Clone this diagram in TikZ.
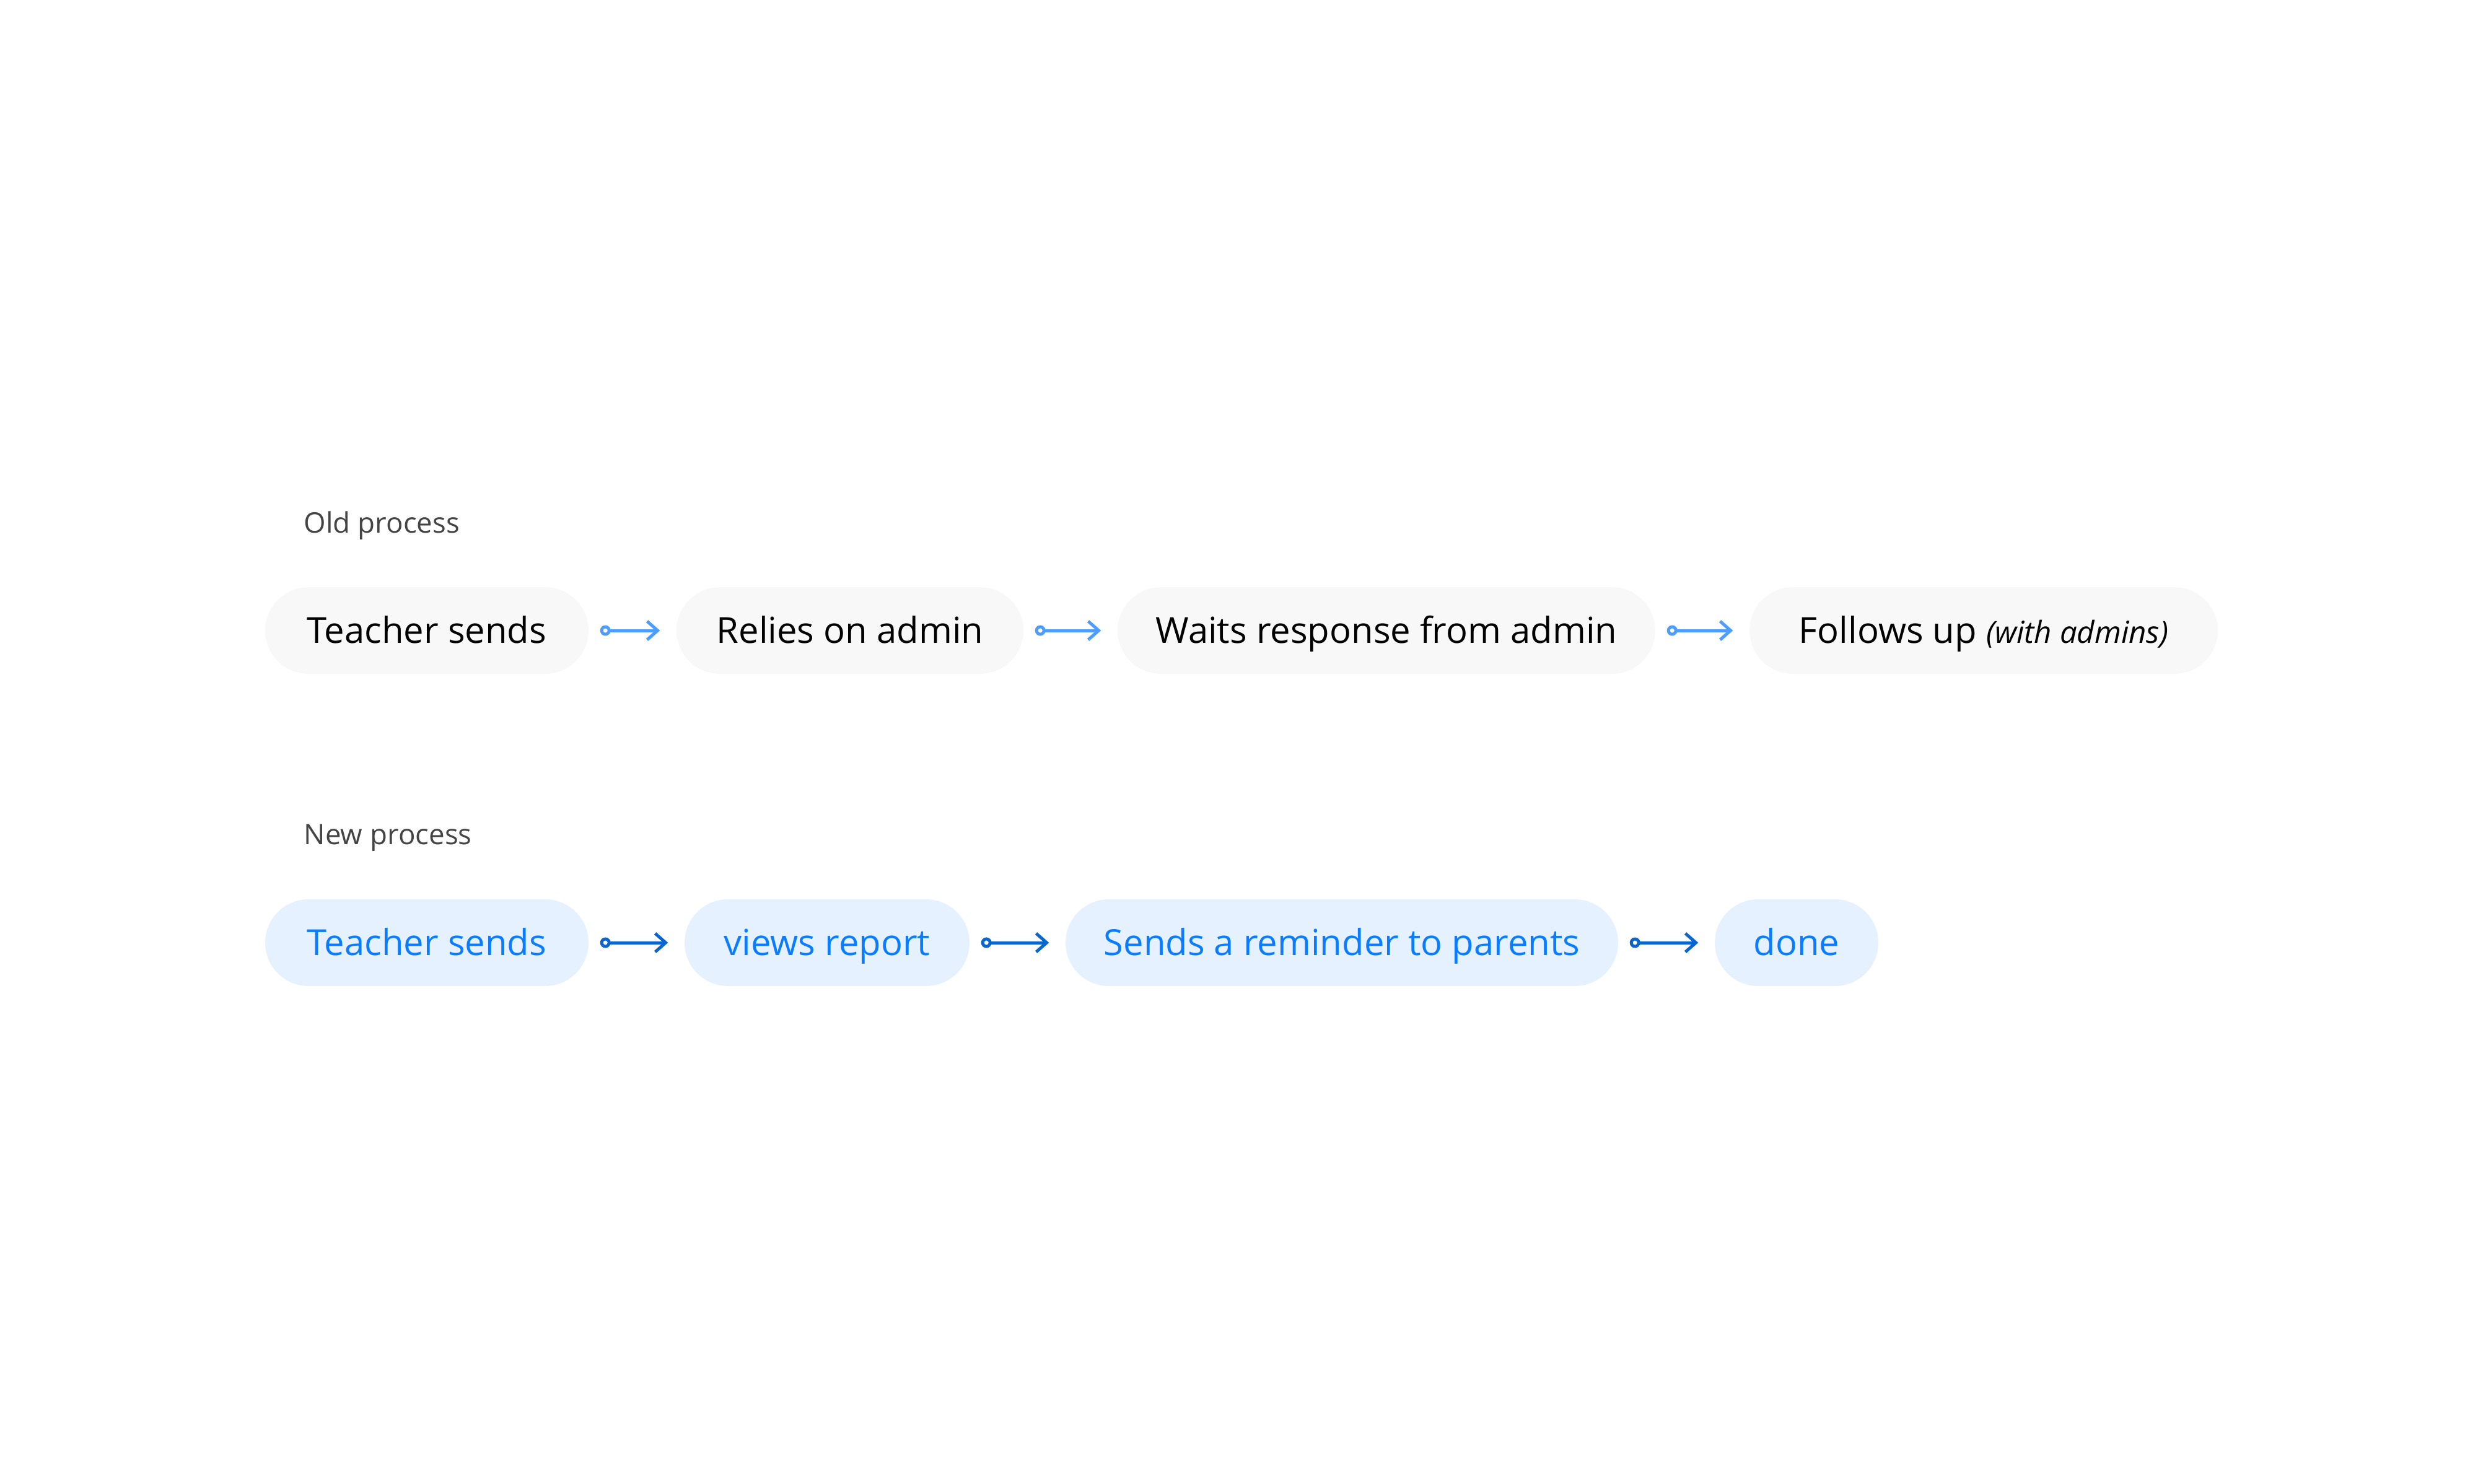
\documentclass[tikz,border=0pt]{standalone}
\usepackage{fontspec}
\setmainfont{Open Sans}
\usetikzlibrary{arrows.meta}
\definecolor{oldfill}{HTML}{F8F8F8}
\definecolor{newfill}{HTML}{E5F1FF}
\definecolor{newtext}{HTML}{0A7CFF}
\definecolor{oldline}{HTML}{4D9DFF}
\definecolor{newline}{HTML}{0A66CC}
\definecolor{labelgrey}{HTML}{444444}
\begin{document}
\begin{tikzpicture}[
	box/.style={rounded corners=0.7cm, minimum height=1.4cm, inner xsep=0pt, inner ysep=0pt, text height=0.41cm, text depth=0cm, font=\fontsize{16.5}{20}\selectfont},
	oldbox/.style={box, fill=oldfill, text=black},
	newbox/.style={box, fill=newfill, text=newtext},
	link/.style={line width=0.05cm, shorten <=0.18cm, shorten >=0.26cm, {Circle[open,length=0.17cm]}-{Straight Barb[length=0.17cm,width=0.3cm]}},
	caption/.style={anchor=base west, inner sep=0pt, text=labelgrey, font=\fontsize{13}{15}\selectfont}]
		\useasboundingbox (0,0) rectangle (40,-23.96);
		\node[caption] (oldlabel) at (4.9,-8.6) {Old process};
		\node[oldbox, minimum width=5.22cm] (o1) at (6.89,-10.18) {Teacher sends};
		\node[oldbox, minimum width=5.60cm] (o2) at (13.72,-10.18) {Relies on admin};
		\node[oldbox, minimum width=8.68cm] (o3) at (22.38,-10.18) {Waits response from admin};
		\node[oldbox, minimum width=7.56cm] (o4) at (32.02,-10.18) {Follows up \fontsize{14}{16}\selectfont\itshape (with admins)};
		\draw[link, oldline] (o1) -- (o2);
		\draw[link, oldline] (o2) -- (o3);
		\draw[link, oldline] (o3) -- (o4);
		\node[caption] (newlabel) at (4.9,-13.63) {New process};
		\node[newbox, minimum width=5.22cm] (n1) at (6.89,-15.22) {Teacher sends};
		\node[newbox, minimum width=4.60cm] (n2) at (13.35,-15.22) {views report};
		\node[newbox, minimum width=8.92cm] (n3) at (21.66,-15.22) {Sends a reminder to parents};
		\node[newbox, minimum width=2.64cm] (n4) at (29.00,-15.22) {done};
		\draw[link, newline] (n1) -- (n2);
		\draw[link, newline] (n2) -- (n3);
		\draw[link, newline] (n3) -- (n4);
	\end{tikzpicture}
\end{document}
